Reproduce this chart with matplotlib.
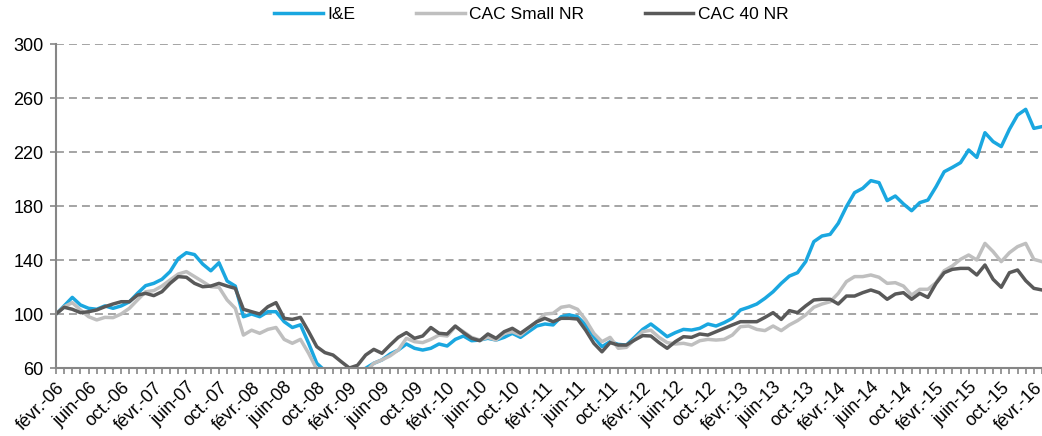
import matplotlib
matplotlib.use("Agg")
import matplotlib.pyplot as plt

plt.rcParams['font.family'] = ['Liberation Sans', 'DejaVu Sans']

# monthly data, févr.-06 .. mars-16 (base 100)
ie = [100, 106, 112.3, 106.7, 104.2, 103.5, 106, 104.2, 106, 109,
      115.3, 121, 122.7, 125.7, 131.4, 141, 145.4, 144, 137, 132,
      138, 124.4, 120.7, 98, 100, 98, 101.7, 101.7, 94.3, 90,
      92, 78.3, 63.5, 58, 52, 48, 47, 52, 59.8, 63.5,
      66, 70.4, 73.3, 77.8, 74.6, 73.3, 74.6, 77.8, 76.3, 81.2,
      83.7, 80.2, 80.7, 82, 80.7, 82.7, 85.7, 82.7, 86.9, 91.1,
      92.6, 91.9, 98, 99.3, 98, 91.9, 83.2, 75.8, 79.5, 77.5,
      77, 82.7, 88.6, 92.6, 88, 83.2, 86.2, 88.6, 88.1, 89.4,
      92.6, 91.1, 93.6, 96.8, 103, 105, 107.4, 111.6, 116.5, 122.7,
      128.1, 130.6, 138.8, 153.6, 157.8, 159, 167.2, 179.5, 189.9, 193.1,
      198.8, 197.3, 184, 187.4, 181.5, 176.5, 182.5, 184.4, 194.3, 205.4,
      208.6, 212.1, 221.5, 216, 234.3, 227.7, 224, 236.8, 247.4, 251.6,
      237.5, 238.8]

cac_small = [100, 105.4, 108.4, 103, 98, 95.6, 97.5, 97.3, 100, 104.2,
             110.4, 116.5, 117.3, 120.7, 125.2, 129.6, 131.4, 127.7, 124, 120.2,
             119.8, 110.4, 104.2, 84.4, 88, 85.7, 88.6, 90, 81.2, 78.3,
             81.2, 70.9, 59, 52, 48, 45, 46, 50, 57, 63.5,
             66, 69, 73.3, 82, 79.5, 78.8, 81.2, 84.4, 83.7, 90.6,
             86.9, 82.7, 80.7, 82.7, 80.7, 85.7, 86.9, 84.4, 89.4, 94.3,
             100, 100.5, 105, 106, 103.5, 95.6, 85.7, 79.5, 82.7, 74.6,
             75.3, 81.2, 86.9, 88, 82.7, 78.8, 77.8, 78.3, 77, 80.2,
             81.2, 80.7, 81.2, 84.4, 90.6, 91.1, 88.6, 87.7, 91.1, 87.7,
             91.9, 95.1, 99.3, 105, 107.4, 109.1, 115.3, 124, 127.7, 127.7,
             128.9, 127.2, 122.7, 123.2, 120.7, 114, 118.3, 118.3, 123.2, 132.1,
             135.6, 140.5, 143.7, 140, 152.3, 146.2, 138.8, 145.4, 149.9, 152.3,
             140.5, 138.8]

cac40 = [100, 105, 103.5, 101, 101.7, 103, 105.4, 107.4, 109.1, 109.1,
         114, 115.3, 113.6, 116.5, 122.7, 127.7, 127.2, 122.7, 120.2, 120.7,
         122.7, 120.7, 119, 103.5, 101.7, 100, 105.4, 108.4, 96.8, 96,
         97.5, 87, 75.8, 71.4, 69.6, 64.7, 60, 62, 69.6, 73.8,
         70.9, 77, 82.7, 86.2, 82, 83.7, 90, 85.7, 85.2, 91.1,
         86.2, 82, 80.2, 85.2, 82, 86.9, 89.4, 85.7, 90, 94.3,
         96.8, 94.3, 96.8, 96.8, 96.3, 88, 78.3, 72, 78.8, 77,
         77, 80.7, 84, 83.7, 78.8, 74.6, 79.5, 83.2, 82.7, 85.2,
         84.4, 86.9, 89.4, 91.9, 94.3, 94.3, 94.3, 97.5, 101, 96,
         102.5, 101, 106, 110.4, 110.9, 110.9, 107.4, 113.3, 113.3, 115.8,
         117.8, 115.8, 110.9, 114.8, 115.8, 110.9, 115.3, 112.3, 122.7, 130.6,
         133.1, 133.8, 133.8, 128.9, 136.3, 125.7, 119.8, 130.6, 132.6, 124.7,
         119, 117.8]

tick_labels = []
for yr in range(6, 17):
    for m in ['févr.', 'juin', 'oct.']:
        tick_labels.append('%s-%02d' % (m, yr))
tick_labels = tick_labels[:31]

fig = plt.figure(figsize=(10.42, 4.36), dpi=100)
ax = fig.add_axes([56/1042, 1 - 368/436, 1 - 56/1042, 324/436])

x = list(range(len(ie)))
ax.plot(x, ie, color='#1AA7E0', lw=2.5, label='I&E', solid_joinstyle='round')
ax.plot(x, cac_small, color='#BFBFBF', lw=2.5, label='CAC Small NR', solid_joinstyle='round')
ax.plot(x, cac40, color='#595959', lw=2.5, label='CAC 40 NR', solid_joinstyle='round')

ax.set_xlim(0, len(ie) - 1)
ax.set_ylim(60, 300)
ax.set_yticks(range(60, 301, 40))
ax.yaxis.grid(True, color='#8C8C8C', lw=1.1, linestyle=(0, (5.2, 3.3)))
ax.set_axisbelow(True)

ax.set_xticks(range(0, len(ie), 4))
ax.set_xticks(range(len(ie)), minor=True)
ax.set_xticklabels(tick_labels, rotation=45, ha='right', rotation_mode='anchor')

for s in ['top', 'right']:
    ax.spines[s].set_visible(False)
for s in ['left', 'bottom']:
    ax.spines[s].set_color('#868686')
    ax.spines[s].set_linewidth(1.5)

ax.tick_params(axis='y', length=4, color='#868686', width=1.2, pad=5, labelsize=13)
ax.tick_params(axis='x', which='both', length=4, color='#868686', width=1.2, pad=4, labelsize=13)

fig.legend(loc='center', bbox_to_anchor=(0.51, 0.966), ncol=3, frameon=False,
           fontsize=12.5, handlelength=2.8, handletextpad=0.25, columnspacing=3.5)

fig.savefig('out.png', dpi=100)
